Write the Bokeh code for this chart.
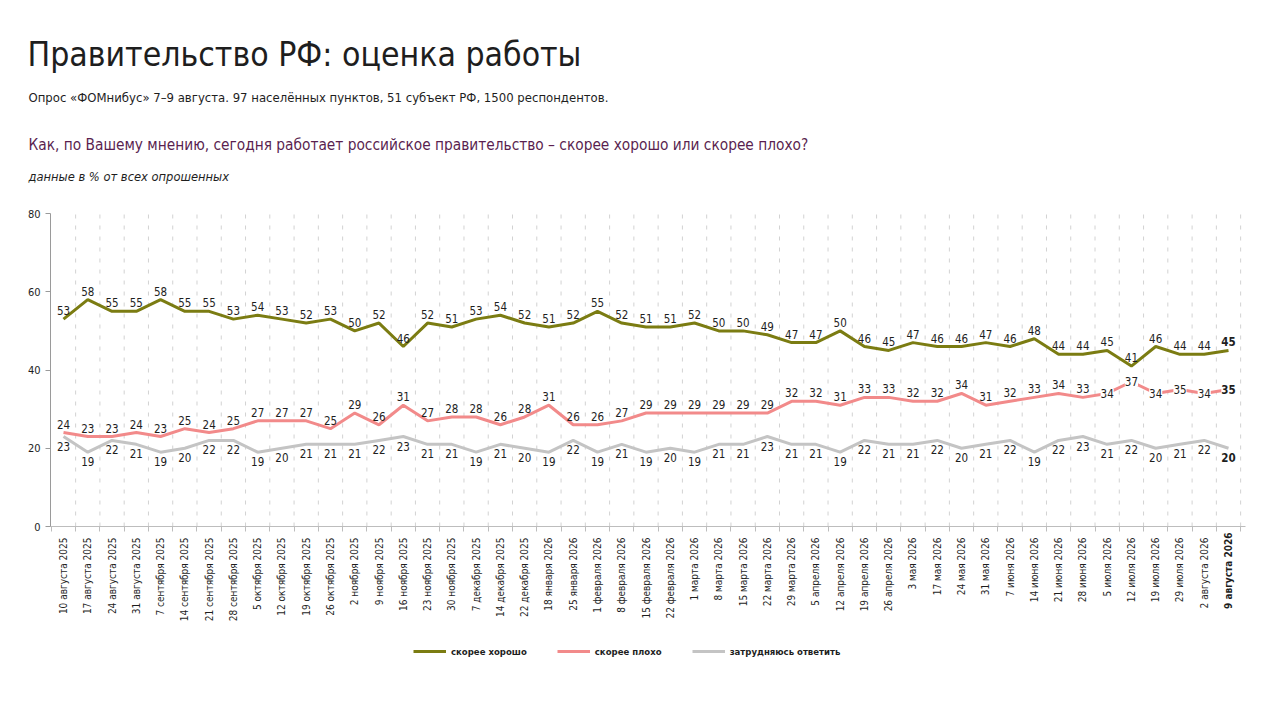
import math
from bokeh.plotting import figure
from bokeh.models import (ColumnDataSource, FixedTicker, Label, Legend, LegendItem,
                          LinearAxis, Range1d)
from bokeh.embed import file_html
from bokeh.resources import INLINE
from bokeh.core.properties import value

dates = [
    "10 августа 2025", "17 августа 2025", "24 августа 2025", "31 августа 2025",
    "7 сентября 2025", "14 сентября 2025", "21 сентября 2025", "28 сентября 2025",
    "5 октября 2025", "12 октября 2025", "19 октября 2025", "26 октября 2025",
    "2 ноября 2025", "9 ноября 2025", "16 ноября 2025", "23 ноября 2025",
    "30 ноября 2025", "7 декабря 2025", "14 декабря 2025", "22 декабря 2025",
    "18 января 2026", "25 января 2026", "1 февраля 2026", "8 февраля 2026",
    "15 февраля 2026", "22 февраля 2026", "1 марта 2026", "8 марта 2026",
    "15 марта 2026", "22 марта 2026", "29 марта 2026", "5 апреля 2026",
    "12 апреля 2026", "19 апреля 2026", "26 апреля 2026", "3 мая 2026",
    "17 мая 2026", "24 мая 2026", "31 мая 2026", "7 июня 2026",
    "14 июня 2026", "21 июня 2026", "28 июня 2026", "5 июля 2026",
    "12 июля 2026", "19 июля 2026", "29 июля 2026", "2 августа 2026",
    "9 августа 2026",
]
good = [53, 58, 55, 55, 58, 55, 55, 53, 54, 53,
        52, 53, 50, 52, 46, 52, 51, 53, 54, 52,
        51, 52, 55, 52, 51, 51, 52, 50, 50, 49,
        47, 47, 50, 46, 45, 47, 46, 46, 47, 46,
        48, 44, 44, 45, 41, 46, 44, 44, 45]
bad = [24, 23, 23, 24, 23, 25, 24, 25, 27, 27,
       27, 25, 29, 26, 31, 27, 28, 28, 26, 28,
       31, 26, 26, 27, 29, 29, 29, 29, 29, 29,
       32, 32, 31, 33, 33, 32, 32, 34, 31, 32,
       33, 34, 33, 34, 37, 34, 35, 34, 35]
hard = [23, 19, 22, 21, 19, 20, 22, 22, 19, 20,
        21, 21, 21, 22, 23, 21, 21, 19, 21, 20,
        19, 22, 19, 21, 19, 20, 19, 21, 21, 23,
        21, 21, 19, 22, 21, 21, 22, 20, 21, 22,
        19, 22, 23, 21, 22, 20, 21, 22, 20]
series_names = ["скорее хорошо", "скорее плохо", "затрудняюсь ответить"]
y_ticks = [0, 20, 40, 60, 80]

title_text = "Правительство РФ: оценка работы"
subtitle_text = "Опрос «ФОМнибус» 7–9 августа. 97 населённых пунктов, 51 субъект РФ, 1500 респондентов."
question_text = "Как, по Вашему мнению, сегодня работает российское правительство – скорее хорошо или скорее плохо?"
note_text = "данные в % от всех опрошенных"

FONT = "DejaVu Sans Condensed"
C_GOOD = "#7b7c12"
C_BAD = "#f28a8a"
C_HARD = "#c4c4c4"
TXT = "#1e1e1e"

# ---- canvas geometry (pixels) ----
W, H = 1264, 697
AX_L, AX_R = 50, 1245          # plot area left / right
CAT0, CATN = 63, 1228          # first / last category centre
Y_TOP, Y_BOT = 213, 526        # pixel of top tick / of zero

n = len(dates)
xs = list(range(n))
ymax = y_ticks[-1]
kx = (CATN - CAT0) / (n - 1)
ky = (Y_BOT - Y_TOP) / ymax
x_of = lambda px: (px - CAT0) / kx
x_left, x_right = x_of(AX_L), x_of(AX_R)

p = figure(width=W, height=H, output_backend="svg", toolbar_location=None, title=None,
           x_range=Range1d(x_of(0), x_of(W)),
           y_range=Range1d(-(H - Y_BOT) / ky, ymax + Y_TOP / ky),
           x_axis_type=None, y_axis_type=None, min_border=0)
p.outline_line_color = None

# ---- axes ----
xa = LinearAxis(fixed_location=0, bounds=(x_left, x_right),
                ticker=FixedTicker(ticks=xs, minor_ticks=[i - 0.5 for i in range(n + 1)]))
xa.major_label_overrides = {i: dates[i] for i in range(n - 1)} | {n - 1: " "}
xa.major_label_orientation = math.pi / 2
xa.major_tick_line_color = None
xa.major_tick_out = 0
xa.major_tick_in = 0
xa.minor_tick_line_color = "#bdbdbd"
xa.minor_tick_out = 5
xa.minor_tick_in = 0
xa.axis_line_color = "#bdbdbd"
xa.major_label_text_font = FONT
xa.major_label_text_font_size = "10px"
xa.major_label_text_color = TXT
xa.major_label_standoff = 6
p.add_layout(xa, "below")

ya = LinearAxis(fixed_location=x_left, bounds=(0, ymax), ticker=FixedTicker(ticks=y_ticks))
ya.minor_tick_line_color = None
ya.major_tick_out = 5
ya.major_tick_in = 0
ya.major_tick_line_color = "#9a9a9a"
ya.axis_line_color = "#9a9a9a"
ya.major_label_text_font = FONT
ya.major_label_text_font_size = "11px"
ya.major_label_text_color = TXT
ya.major_label_standoff = 5
p.add_layout(ya, "left")

# last date label in bold
p.add_layout(Label(x=n - 1, y=H - Y_BOT - 6, x_units="data", y_units="screen", text=dates[-1],
                   angle=math.pi / 2, text_align="right", text_baseline="middle",
                   text_font=FONT, text_font_size="10px", text_font_style="bold",
                   text_color=TXT))

# dashed vertical grid between categories
bounds_x = [i + 0.5 for i in range(n)]
p.segment(x0=bounds_x, x1=bounds_x, y0=[0] * n, y1=[ymax] * n,
          line_color="#d2d2d2", line_dash="4 7", line_width=1)

# ---- lines ----
src = ColumnDataSource(dict(x=xs, good=good, bad=bad, hard=hard,
                            good_t=[str(v) for v in good],
                            bad_t=[str(v) for v in bad],
                            hard_t=[str(v) for v in hard]))
r_hard = p.line("x", "hard", source=src, color=C_HARD, line_width=3)
r_bad = p.line("x", "bad", source=src, color=C_BAD, line_width=3)
r_good = p.line("x", "good", source=src, color=C_GOOD, line_width=3)


def slice_src(a, b):
    return ColumnDataSource({k: v[a:b] for k, v in src.data.items()})


s_main = slice_src(0, n - 1)
s_last = slice_src(n - 1, n)
s_bad_above = slice_src(0, 43)
s_bad_mid = slice_src(43, n - 1)

lab = dict(text_font=value(FONT), text_font_size="11.5px", text_color=TXT, text_align="center")

p.text("x", "good", text="good_t", source=s_main, text_baseline="bottom", y_offset=-4, **lab)
p.text("x", "good", text="good_t", source=s_last, text_baseline="bottom", y_offset=-4,
       text_font_style="bold", **lab)
p.text("x", "hard", text="hard_t", source=s_main, text_baseline="top", y_offset=5, **lab)
p.text("x", "hard", text="hard_t", source=s_last, text_baseline="top", y_offset=5,
       text_font_style="bold", **lab)
p.text("x", "bad", text="bad_t", source=s_bad_above, text_baseline="bottom", y_offset=-4, **lab)
p.text("x", "bad", text="bad_t", source=s_bad_mid, text_baseline="middle", y_offset=0,
       background_fill_color="white", **lab)
p.text("x", "bad", text="bad_t", source=s_last, text_baseline="middle", y_offset=0,
       background_fill_color="white", text_font_style="bold", **lab)

# ---- legend ----
legend = Legend(items=[LegendItem(label=series_names[0], renderers=[r_good]),
                       LegendItem(label=series_names[1], renderers=[r_bad]),
                       LegendItem(label=series_names[2], renderers=[r_hard])],
                orientation="horizontal", location=(413, H - 661),
                background_fill_alpha=0, border_line_color=None, padding=0, margin=0,
                spacing=30, glyph_width=33, glyph_height=20, label_standoff=5,
                label_text_font=FONT, label_text_font_size="9.5px",
                label_text_font_style="bold", label_text_color=TXT)
p.add_layout(legend)

# ---- headings ----
def head(text, X, Y, size, color=TXT, style="normal"):
    p.add_layout(Label(x=X, y=H - Y, x_units="screen", y_units="screen", text=text,
                       text_font=FONT, text_font_size=size, text_color=color,
                       text_font_style=style, text_align="left", text_baseline="middle"))


head(title_text, 27, 54, "33.5px")
head(subtitle_text, 28, 97, "13px")
head(question_text, 28, 144, "15.3px", color="#5a1f50")
head(note_text, 28, 176, "12.8px", style="italic")

open("out.html", "w").write(file_html(p, INLINE))
